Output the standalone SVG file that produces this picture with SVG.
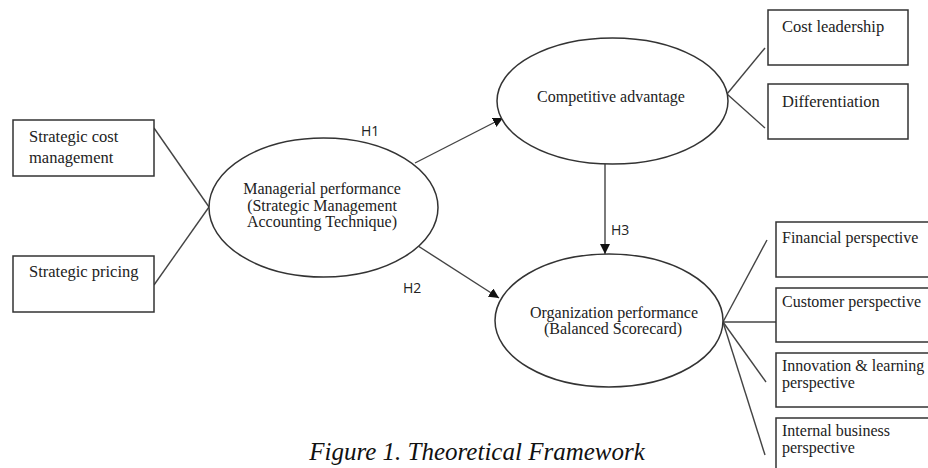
<svg xmlns="http://www.w3.org/2000/svg" width="928" height="468" viewBox="0 0 928 468">
<style>
.box{fill:#fff;stroke:#333;stroke-width:1.5}
.ell{fill:#fff;stroke:#333;stroke-width:1.5}
.ln{stroke:#444;stroke-width:1.4;fill:none}
.t{font-family:"Liberation Serif","Times New Roman",serif;font-size:16.5px;fill:#222}
.tr{font-family:"Liberation Serif","Times New Roman",serif;font-size:16px;fill:#222}
.tc{font-family:"Liberation Serif","Times New Roman",serif;font-size:16px;fill:#222;text-anchor:middle}
.h{font-family:"Open Sans","Liberation Sans",sans-serif;font-size:14px;fill:#222}
.cap{font-family:"Liberation Serif","Times New Roman",serif;font-size:25px;font-style:italic;fill:#111;text-anchor:middle}
</style>
<defs>
<marker id="arr" viewBox="0 0 10 10" refX="10" refY="5" markerWidth="10" markerHeight="10" markerUnits="userSpaceOnUse" orient="auto">
<path d="M0,0 L10,5 L0,10 z" fill="#111"/>
</marker>
</defs>
<g id="connectors">
<line class="ln" x1="154" y1="128" x2="209" y2="207"/>
<line class="ln" x1="154" y1="285" x2="209" y2="207"/>
<line class="ln" x1="415" y1="163" x2="503" y2="118" marker-end="url(#arr)"/>
<line class="ln" x1="415" y1="244" x2="499" y2="298" marker-end="url(#arr)"/>
<line class="ln" x1="605" y1="164" x2="605" y2="254" marker-end="url(#arr)"/>
<line class="ln" x1="727" y1="94" x2="765" y2="48"/>
<line class="ln" x1="727" y1="94" x2="765" y2="128"/>
<line class="ln" x1="723" y1="322" x2="767" y2="240"/>
<line class="ln" x1="723" y1="322" x2="776" y2="322"/>
<line class="ln" x1="723" y1="322" x2="766" y2="382"/>
<line class="ln" x1="723" y1="322" x2="765" y2="455"/>
</g>
<g id="scm"><rect class="box" x="13" y="120" width="141" height="56"/><text class="t" x="29" y="142">Strategic cost</text><text class="t" x="29" y="163">management</text></g>
<g id="sp"><rect class="box" x="13" y="256" width="141" height="56"/><text class="t" x="29" y="277">Strategic pricing</text></g>
<g id="mp"><ellipse class="ell" cx="323.5" cy="207.5" rx="114.5" ry="69.5"/><text class="tc" x="322" y="194" font-size="16.5">Managerial performance</text><text class="tc" x="322" y="211" font-size="16.5">(Strategic Management</text><text class="tc" x="322" y="227" font-size="16.5">Accounting Technique)</text></g>
<g id="ca"><ellipse class="ell" cx="612.5" cy="101" rx="115.5" ry="63"/><text class="tc" x="611" y="102">Competitive advantage</text></g>
<g id="op"><ellipse class="ell" cx="609" cy="320.5" rx="114" ry="66.5"/><text class="tc" x="614" y="318">Organization performance</text><text class="tc" x="613" y="334">(Balanced Scorecard)</text></g>
<g id="cl"><rect class="box" x="768" y="10" width="140" height="55"/><text class="t" x="782" y="32">Cost leadership</text></g>
<g id="df"><rect class="box" x="768" y="84" width="140" height="55"/><text class="t" x="782" y="107">Differentiation</text></g>
<g id="fp"><rect class="box" x="776" y="222" width="170" height="55"/><text class="tr" x="782" y="243">Financial perspective</text></g>
<g id="cp"><rect class="box" x="776" y="288" width="170" height="54"/><text class="tr" x="782" y="307">Customer perspective</text></g>
<g id="il"><rect class="box" x="776" y="353" width="170" height="54"/><text class="tr" x="782" y="371">Innovation &amp; learning</text><text class="tr" x="782" y="388">perspective</text></g>
<g id="ib"><rect class="box" x="776" y="418" width="170" height="70"/><text class="tr" x="782" y="436">Internal business</text><text class="tr" x="782" y="453">perspective</text></g>
<g id="labels"><text class="h" x="361" y="136">H1</text><text class="h" x="403" y="293">H2</text><text class="h" x="611" y="235">H3</text></g>
<text class="cap" x="477" y="460">Figure 1. Theoretical Framework</text>
</svg>
